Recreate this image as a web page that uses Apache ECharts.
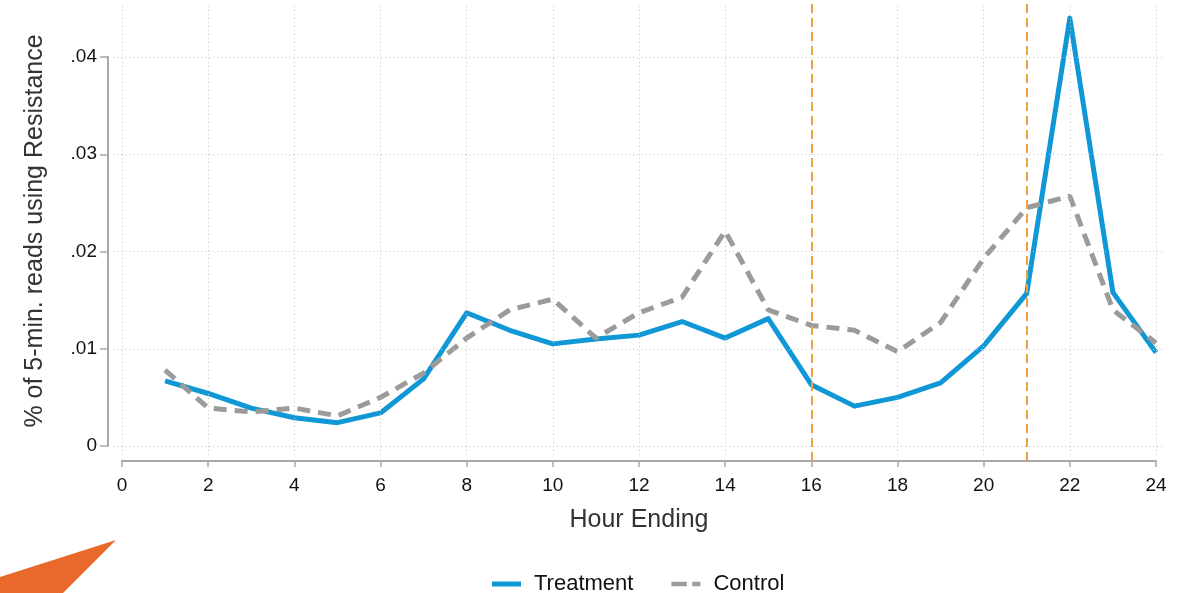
<!DOCTYPE html>
<html>
<head>
<meta charset="utf-8">
<script src="https://cdn.jsdelivr.net/npm/echarts@6/dist/echarts.min.js"></script>
<style>
html,body{margin:0;padding:0;background:#fff;}
#chart{width:1187px;height:593px;}
</style>
</head>
<body>
<div id="chart"></div>
<script>
// ---- data ----
const hours = [1,2,3,4,5,6,7,8,9,10,11,12,13,14,15,16,17,18,19,20,21,22,23,24];
const treatment = [0.0067,0.0054,0.0039,0.0029,0.0024,0.0034,0.0069,0.0137,0.0119,0.0105,0.0110,0.0114,0.0128,0.0111,0.0131,0.0063,0.0041,0.0050,0.0065,0.0103,0.0157,0.0440,0.0158,0.0096];
const control   = [0.0078,0.0039,0.0035,0.0039,0.0031,0.0050,0.0075,0.0111,0.0140,0.0151,0.0111,0.0137,0.0153,0.0221,0.0140,0.0124,0.0119,0.0097,0.0127,0.0193,0.0245,0.0257,0.0140,0.0106];
const seriesNames = ['Treatment','Control'];
const xTicks = [0,2,4,6,8,10,12,14,16,18,20,22,24];
const yTicks = [0,0.01,0.02,0.03,0.04];
const yTickLabels = ['0','.01','.02','.03','.04'];
const refLines = [16,21];
const xTitle = 'Hour Ending';
const yTitle = '% of 5-min. reads using Resistance';

// ---- layout ----
const X0PX = 122, XMAXPX = 1156, Y0PX = 446, YMAXPX = 57;
const XMIN = 0, XMAX = 24, YMIN = 0, YMAX = 0.04;
const pxX = (XMAXPX - X0PX) / (XMAX - XMIN);
const pxY = (Y0PX - YMAXPX) / (YMAX - YMIN);
const toX = px => XMIN + (px - X0PX) / pxX;
const toY = py => YMIN + (Y0PX - py) / pxY;

const G0 = {left:113, right:1165, top:1, bottom:461};
const x0min = toX(G0.left), x0max = toX(G0.right);
const y0min = toY(G0.bottom), y0max = toY(G0.top);
const eps = 1e-6;

const FONT = '"Liberation Sans", Arial, sans-serif';
const BLUE = '#0f97d6', GRAY = '#9b9b9b', ORANGE = '#f0a13c', AXIS = '#a8a8a8';

const gridLineData = [];
yTicks.forEach(v => gridLineData.push([{coord:[x0min+eps, v]},{coord:[x0max-eps, v]}]));
xTicks.forEach(v => gridLineData.push([{coord:[v, toY(455)]},{coord:[v, toY(4)]}]));
const refLineData = refLines.map(v => [{coord:[v, y0min+1e-7]},{coord:[v, y0max-1e-7]}]);

const chart = echarts.init(document.getElementById('chart'), null, {renderer:'canvas'});
chart.setOption({
  animation:false,
  backgroundColor:'#ffffff',
  textStyle:{fontFamily:FONT},
  grid:[
    {left:G0.left, top:G0.top, width:G0.right-G0.left, height:G0.bottom-G0.top, containLabel:false},
    {left:X0PX, top:YMAXPX, width:XMAXPX-X0PX, height:Y0PX-YMAXPX, containLabel:false}
  ],
  xAxis:[
    {type:'value', gridIndex:0, min:x0min, max:x0max, show:true,
     axisLine:{show:false}, axisTick:{show:false}, axisLabel:{show:false}, splitLine:{show:false}},
    {type:'value', gridIndex:1, min:XMIN, max:XMAX, interval:2, offset:15, position:'bottom',
     name:xTitle, nameLocation:'middle', nameGap:47,
     nameTextStyle:{fontFamily:FONT, fontSize:25, color:'#333333'},
     axisLine:{show:true, onZero:false, lineStyle:{color:AXIS, width:2}},
     axisTick:{show:true, length:6, lineStyle:{color:AXIS, width:1.5}},
     axisLabel:{show:true, margin:15, fontFamily:FONT, fontSize:19, color:'#111111'},
     splitLine:{show:false}}
  ],
  yAxis:[
    {type:'value', gridIndex:0, min:y0min, max:y0max,
     name:yTitle, nameLocation:'middle', nameGap:65, nameRotate:90,
     nameTextStyle:{fontFamily:FONT, fontSize:25, color:'#333333'},
     axisLine:{show:false}, axisTick:{show:false}, axisLabel:{show:false}, splitLine:{show:false}},
    {type:'value', gridIndex:1, min:YMIN, max:YMAX, interval:0.01, offset:14, position:'left',
     axisLine:{show:true, onZero:false, lineStyle:{color:AXIS, width:2}},
     axisTick:{show:true, length:8, lineStyle:{color:AXIS, width:1.5}},
     axisLabel:{show:true, margin:11, fontFamily:FONT, fontSize:19, color:'#111111',
       formatter: v => { const i = yTicks.findIndex(t => Math.abs(t - v) < 1e-9); return i >= 0 ? yTickLabels[i] : ''; }},
     splitLine:{show:false}}
  ],
  legend:{
    data:[
      {name:seriesNames[0], icon:'rect'},
      {name:seriesNames[1], icon:'path://M0,0h17v5h-17z M23,0h9v5h-9z'}
    ],
    left:487, top:568, orient:'horizontal',
    itemWidth:29, itemHeight:5, itemGap:38,
    itemStyle:{borderWidth:0},
    textStyle:{fontFamily:FONT, fontSize:22, color:'#111111', padding:[0,0,0,8]}
  },
  graphic:[
    {type:'polygon', shape:{points:[[0,577],[116,540],[63,593],[0,593]]}, style:{fill:'#e8692a'}, silent:true}
  ],
  series:[
    {name:'grid', type:'line', xAxisIndex:0, yAxisIndex:0, data:[], z:1, silent:true,
     markLine:{silent:true, symbol:['none','none'], label:{show:false}, animation:false,
       lineStyle:{color:'#c4c4c4', width:1, type:[1,3]}, emphasis:{disabled:true},
       data:gridLineData}},
    {name:'ref', type:'line', xAxisIndex:0, yAxisIndex:0, data:[], z:1.5, silent:true,
     markLine:{silent:true, symbol:['none','none'], label:{show:false}, animation:false,
       lineStyle:{color:ORANGE, width:2, type:[9,5]}, emphasis:{disabled:true},
       data:refLineData}},
    {name:seriesNames[0], type:'line', xAxisIndex:0, yAxisIndex:0, z:3,
     data:hours.map((h,i)=>[h, treatment[i]]), symbol:'none', clip:false,
     itemStyle:{color:BLUE},
     lineStyle:{color:BLUE, width:5, join:'round'}},
    {name:seriesNames[1], type:'line', xAxisIndex:0, yAxisIndex:0, z:4,
     data:hours.map((h,i)=>[h, control[i]]), symbol:'none', clip:false,
     itemStyle:{color:GRAY},
     lineStyle:{color:GRAY, width:5, type:[13,8]}}
  ]
});
</script>
</body>
</html>
